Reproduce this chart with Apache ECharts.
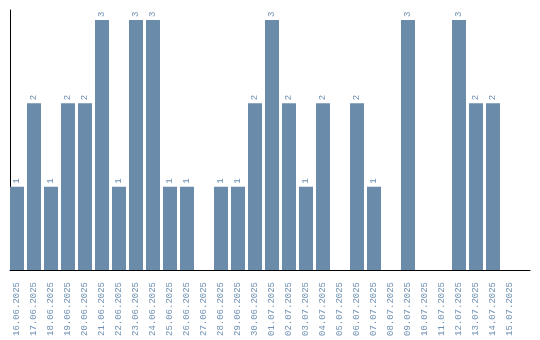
<!DOCTYPE html>
<html><head><meta charset="utf-8">
<script src="https://cdn.jsdelivr.net/npm/echarts@6/dist/echarts.min.js"></script>
<style>html,body{margin:0;padding:0;background:#fff}#c{width:540px;height:340px}</style>
</head><body><div id="c"></div>
<script>
const categories = ["16.06.2025","17.06.2025","18.06.2025","19.06.2025","20.06.2025","21.06.2025","22.06.2025","23.06.2025","24.06.2025","25.06.2025","26.06.2025","27.06.2025","28.06.2025","29.06.2025","30.06.2025","01.07.2025","02.07.2025","03.07.2025","04.07.2025","05.07.2025","06.07.2025","07.07.2025","08.07.2025","09.07.2025","10.07.2025","11.07.2025","12.07.2025","13.07.2025","14.07.2025","15.07.2025"];
const counts = [1,2,1,2,2,3,1,3,3,1,1,0,1,1,2,3,2,1,2,0,2,1,0,3,0,0,3,2,2,0];
const chart = echarts.init(document.getElementById('c'));
const txt = '#6f90b2';
chart.setOption({
  animation:false,
  grid:[{left:8.5,right:21.5,top:10,bottom:70,containLabel:false,outerBoundsMode:'none'},
        {left:10,right:10,top:10,bottom:70,containLabel:false,outerBoundsMode:'none'}],
  xAxis:[{type:'category',data:categories,gridIndex:0,
    axisLine:{show:false},axisTick:{show:false},
    axisLabel:{rotate:90,color:txt,fontFamily:'Liberation Mono',fontSize:9,interval:0,margin:12}},
    {type:'value',gridIndex:1,min:0,max:1,axisLine:{show:true,lineStyle:{color:'#000'}},axisTick:{show:false},axisLabel:{show:false},splitLine:{show:false}}],
  yAxis:[{type:'value',gridIndex:0,min:0,max:3.12,
    axisLine:{show:false},axisTick:{show:false},axisLabel:{show:false},splitLine:{show:false}},
    {type:'value',gridIndex:1,min:0,max:1,axisLine:{show:true,lineStyle:{color:'#000'}},axisTick:{show:false},axisLabel:{show:false},splitLine:{show:false}}],
  series:[{type:'bar',xAxisIndex:0,yAxisIndex:0,data:counts.map(v=>v===0?null:v),barWidth:14,
    itemStyle:{color:'#6a8caa'},
    label:{show:true,position:'top',rotate:90,align:'left',verticalAlign:'middle',distance:3,
      color:txt,fontFamily:'Liberation Mono',fontSize:9}}]
});
</script></body></html>
